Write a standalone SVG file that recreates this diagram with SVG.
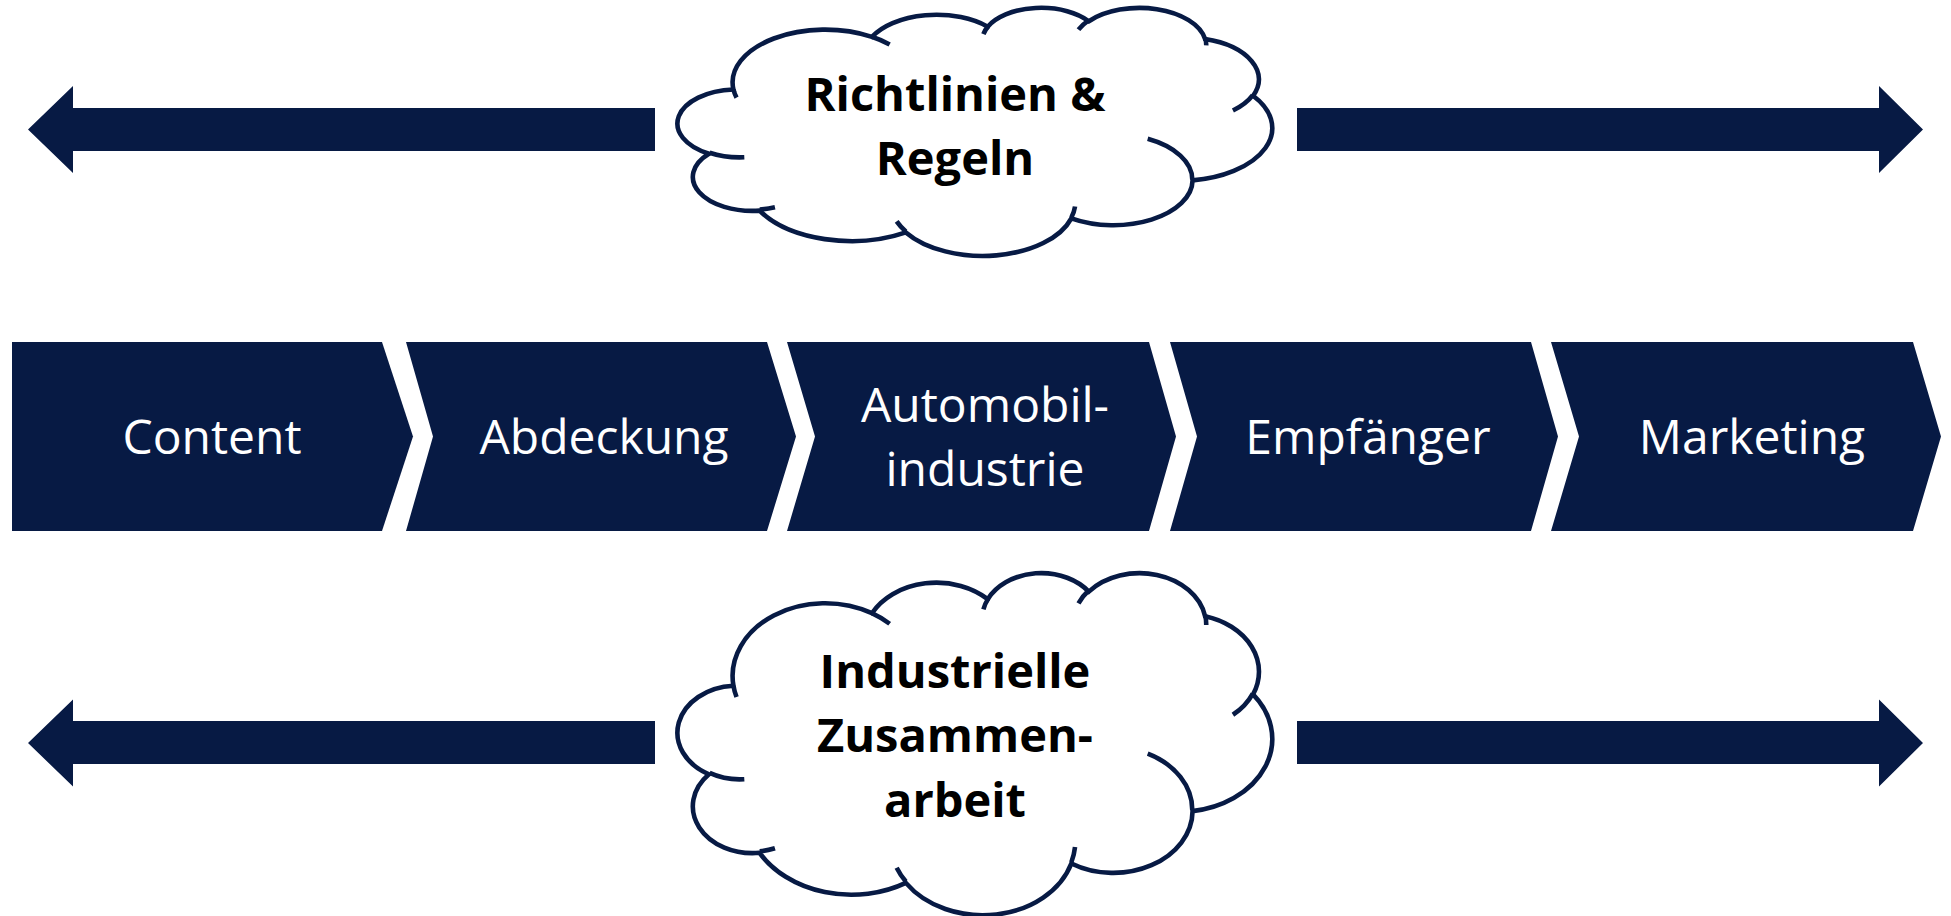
<svg xmlns="http://www.w3.org/2000/svg" xmlns:xlink="http://www.w3.org/1999/xlink" width="1951" height="916" viewBox="0 0 1951 916">
<defs>
<style>
.chev{fill:#071a44}
.arr{fill:#071a44}
.lbl{font-family:"Open Sans","Noto Sans",sans-serif;font-size:48px;font-weight:400;fill:#ffffff;text-anchor:middle}
.cl{font-family:"Open Sans","Noto Sans",sans-serif;font-size:47px;font-weight:700;fill:#000000;text-anchor:middle}
</style>
<path id="cloudOutline" fill="#ffffff" stroke="#071a44" stroke-width="4.6" vector-effect="non-scaling-stroke" d="M3900,14370 A6753,9190 0 0,1 14006,5202 A5333,7267 0 0,1 22456,3432 A4365,5945 0 0,1 29834,2482 A4857,6595 0 0,1 38318,5578 A5333,7273 0 0,1 41818,15462 A6775,9220 0 0,1 37404,30204 A5785,7867 0 0,1 28556,36815 A6752,9215 0 0,1 16481,39267 A7720,10543 0 0,1 5805,35473 A4360,5918 0 0,1 2113,25551 A4345,5945 0 0,1 3900,14370 Z"/>
<path id="cloudStubs" fill="none" stroke="#071a44" stroke-width="4.6" vector-effect="non-scaling-stroke" d="M4693,26177 A4345,5945 0 0,1 2160,25380 M6928,34899 A4360,5918 0 0,1 5819,35281 M16478,39090 A6752,9215 0 0,1 15810,37349 M28827,34751 A6752,9215 0 0,1 28560,36660 M34129,22954 A5785,7867 0 0,1 37381,30090 M41798,15354 A5333,7273 0 0,1 40349,18031 M38324,5426 A4857,6595 0 0,1 38400,6690 M29078,3952 A4857,6595 0 0,1 29821,2339 M22141,4720 A4365,5945 0 0,1 22500,3330 M14000,5192 A6753,9190 0 0,1 15299,6540 M4127,15789 A6753,9190 0 0,1 3900,14371"/>
</defs>
<rect x="0" y="0" width="1951" height="916" fill="#ffffff"/>

<g id="connectors">
<polygon class="arr" points="28,129.5 73,86 73,108 655,108 655,151 73,151 73,173"/>
<polygon class="arr" points="1923,129.5 1879,86 1879,108 1297,108 1297,151 1879,151 1879,173"/>
<polygon class="arr" points="28,743 73,699.5 73,721 655,721 655,764 73,764 73,786.5"/>
<polygon class="arr" points="1923,743 1879,699.5 1879,721 1297,721 1297,764 1879,764 1879,786.5"/>
</g>

<g id="node-content">
<polygon class="chev" points="12,342 382,342 413,436.5 382,531 12,531"/>
<text class="lbl" x="212" y="454">Content</text>
</g>
<g id="node-abdeckung">
<polygon class="chev" points="406,342 767,342 796,436.5 767,531 406,531 433,436.5"/>
<text class="lbl" x="604" y="454">Abdeckung</text>
</g>
<g id="node-automobilindustrie">
<polygon class="chev" points="787,342 1149,342 1176,436.5 1149,531 787,531 815,436.5"/>
<text class="lbl" x="985" y="422">Automobil-</text>
<text class="lbl" x="985" y="486">industrie</text>
</g>
<g id="node-empfaenger">
<polygon class="chev" points="1170,342 1531,342 1558,436.5 1531,531 1170,531 1197,436.5"/>
<text class="lbl" x="1368" y="454">Empfänger</text>
</g>
<g id="node-marketing">
<polygon class="chev" points="1551,342 1913,342 1941,436.5 1913,531 1551,531 1579,436.5"/>
<text class="lbl" x="1752" y="454">Marketing</text>
</g>

<g id="node-richtlinien">
<g transform="translate(680,7) scale(0.0137037,0.0057407)">
<use xlink:href="#cloudOutline" href="#cloudOutline"/>
<use xlink:href="#cloudStubs" href="#cloudStubs"/>
</g>
<text class="cl" x="955" y="111">Richtlinien &amp;</text>
<text class="cl" x="955" y="175">Regeln</text>
</g>

<g id="node-zusammenarbeit">
<g transform="translate(680,572) scale(0.0137037,0.0079167)">
<use xlink:href="#cloudOutline" href="#cloudOutline"/>
<use xlink:href="#cloudStubs" href="#cloudStubs"/>
</g>
<text class="cl" x="955" y="688">Industrielle</text>
<text class="cl" x="955" y="752">Zusammen-</text>
<text class="cl" x="955" y="817">arbeit</text>
</g>
</svg>
